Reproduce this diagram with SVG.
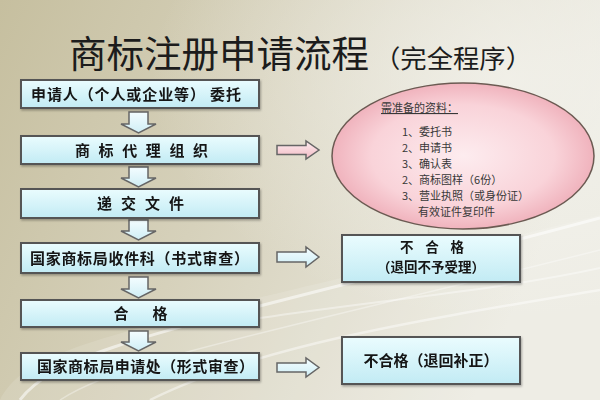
<svg xmlns="http://www.w3.org/2000/svg" width="600" height="400" viewBox="0 0 600 400">
<defs>
  <linearGradient id="bg" x1="0" y1="0" x2="1" y2="0.3">
    <stop offset="0" stop-color="#c6bf9f"/>
    <stop offset="0.45" stop-color="#d6d1bb"/>
    <stop offset="1" stop-color="#ecebe2"/>
  </linearGradient>
  <radialGradient id="glow" cx="0.85" cy="0.2" r="0.6">
    <stop offset="0" stop-color="#f3f2ec" stop-opacity="0.8"/>
    <stop offset="1" stop-color="#f3f2ec" stop-opacity="0"/>
  </radialGradient>
  <linearGradient id="box" x1="0" y1="0" x2="0" y2="1">
    <stop offset="0" stop-color="#eafcfe"/>
    <stop offset="1" stop-color="#c2ebf4"/>
  </linearGradient>
  <linearGradient id="arrowB" x1="0" y1="0" x2="0" y2="1">
    <stop offset="0" stop-color="#f4fdff"/>
    <stop offset="1" stop-color="#cfeef5"/>
  </linearGradient>
  <linearGradient id="arrowP" x1="0" y1="0" x2="0" y2="1">
    <stop offset="0" stop-color="#fdeef1"/>
    <stop offset="1" stop-color="#f2b9c3"/>
  </linearGradient>
  <radialGradient id="ell" cx="0.5" cy="0.5" r="0.5">
    <stop offset="0" stop-color="#fdecef"/>
    <stop offset="0.7" stop-color="#f9d3d9"/>
    <stop offset="1" stop-color="#f0b3bd"/>
  </radialGradient>
  <filter id="sh" x="-5%" y="-10%" width="110%" height="130%">
    <feDropShadow dx="1" dy="1.5" stdDeviation="1" flood-color="#000" flood-opacity="0.3"/>
  </filter>
</defs>
<style>
  .box { fill: url(#box); stroke: #555; stroke-width: 2; }
  .rbox { fill: url(#box); stroke: #555; stroke-width: 2; }
  .t { font-family: "Noto Sans CJK SC", "Noto Sans", sans-serif; font-weight: bold; font-size: 15px; fill: #151515; }
  .t2 { font-family: "Noto Sans CJK SC", "Noto Sans", sans-serif; font-weight: bold; font-size: 13.5px; fill: #151515; }
  .e { font-family: "Noto Sans CJK SC", "Noto Sans", sans-serif; font-size: 11px; fill: #383838; }
  .down { fill: url(#arrowB); stroke: #666; stroke-width: 1.5; }
  .right { fill: url(#arrowB); stroke: #666; stroke-width: 1.5; }
  .rightp { fill: url(#arrowP); stroke: #666; stroke-width: 1.5; }
  .title { font-family: "Noto Sans CJK SC", "Noto Sans", sans-serif; fill: #1c1c1c; }
  .swoosh { fill: none; stroke: #ffffff; }
</style>

<rect x="0" y="0" width="600" height="400" fill="url(#bg)"/>
<rect x="0" y="0" width="600" height="400" fill="url(#glow)"/>
<g id="background-swooshes">
  <path d="M0 400 C 30 340, 140 330, 600 215 L 600 400 Z" fill="#ffffff" opacity="0.12"/>
  <path class="swoosh" d="M20 400 C 60 345, 200 325, 600 218" stroke-width="3" opacity="0.55"/>
  <path class="swoosh" d="M150 400 C 260 345, 420 320, 600 290" stroke-width="2.5" opacity="0.45"/>
  <path class="swoosh" d="M260 318 C 380 300, 500 290, 600 268" stroke-width="2" opacity="0.4"/>
  <path class="swoosh" d="M60 400 C 120 360, 260 335, 600 250" stroke-width="1.5" opacity="0.35"/>
</g>

<g id="title">
  <text class="title" x="69" y="67.5" font-size="37" textLength="300" lengthAdjust="spacingAndGlyphs">商标注册申请流程</text>
  <text class="title" x="374" y="68" font-size="25" textLength="158" lengthAdjust="spacingAndGlyphs">（完全程序）</text>
</g>

<g id="connectors">
  <path class="down" d="M129 112 H148 V124 H156 L138.5 133 L121 124 H129 Z"/>
  <path class="down" d="M129 167 H148 V178 H156 L138.5 187 L121 178 H129 Z"/>
  <path class="down" d="M129 220 H148 V231 H156 L138.5 240 L121 231 H129 Z"/>
  <path class="down" d="M129 277 H148 V289 H156 L138.5 298 L121 289 H129 Z"/>
  <path class="down" d="M129 331 H148 V342 H156 L138.5 351 L121 342 H129 Z"/>
  <path class="rightp" d="M277 145.5 H306 V141 L319 150 L306 159 V154.5 H277 Z"/>
  <path class="right" d="M277 252 H306 V247 L319 257 L306 267 V262 H277 Z"/>
  <path class="right" d="M277 363 H306 V358 L319 367.5 L306 377 V372 H277 Z"/>
</g>

<g id="n1" filter="url(#sh)">
  <rect class="box" x="21" y="80" width="238" height="28"/>
  <text class="t" x="31" y="99.5" textLength="210" lengthAdjust="spacing">申请人（个人或企业等） 委托</text>
</g>
<g id="n2" filter="url(#sh)">
  <rect class="box" x="21" y="136" width="238" height="28"/>
  <text class="t" x="75" y="155.5" textLength="133" lengthAdjust="spacing">商 标 代 理 组 织</text>
</g>
<g id="n3" filter="url(#sh)">
  <rect class="box" x="21" y="189" width="238" height="29"/>
  <text class="t" x="97" y="209" textLength="87" lengthAdjust="spacing">递 交 文 件</text>
</g>
<g id="n4" filter="url(#sh)">
  <rect class="box" x="21" y="243" width="238" height="30"/>
  <text class="t" x="30" y="263.5" textLength="219" lengthAdjust="spacing">国家商标局收件科（书式审查）</text>
</g>
<g id="n5" filter="url(#sh)">
  <rect class="box" x="21" y="300" width="238" height="27"/>
  <text class="t" x="113.5" y="319" textLength="54" lengthAdjust="spacing">合　　格</text>
</g>
<g id="n6" filter="url(#sh)">
  <rect class="box" x="21" y="353" width="238" height="27"/>
  <text class="t" x="37" y="372" textLength="217" lengthAdjust="spacing">国家商标局申请处（形式审查）</text>
</g>

<g id="materials">
  <ellipse cx="463" cy="156" rx="131" ry="73" fill="url(#ell)" stroke="#6b5a52" stroke-width="1.5"/>
  <text class="e" x="381" y="112" font-size="12" text-decoration="underline">需准备的资料：</text>
  <text class="e" x="402" y="136">1、委托书</text>
  <text class="e" x="402" y="152">2、申请书</text>
  <text class="e" x="402" y="168">3、确认表</text>
  <text class="e" x="402" y="184">2、商标图样（6份）</text>
  <text class="e" x="402" y="200">3、营业执照（或身份证）</text>
  <text class="e" x="418" y="216">有效证件复印件</text>
</g>

<g id="reject1" filter="url(#sh)">
  <rect class="rbox" x="342" y="235" width="178" height="47"/>
  <text class="t2" x="400" y="252" textLength="64" lengthAdjust="spacing">不 合 格</text>
  <text class="t2" x="431" y="271.5" text-anchor="middle">（退回不予受理）</text>
</g>
<g id="reject2" filter="url(#sh)">
  <rect class="rbox" x="342" y="337" width="178" height="47"/>
  <text class="t" x="431" y="366" text-anchor="middle">不合格（退回补正）</text>
</g>
</svg>
